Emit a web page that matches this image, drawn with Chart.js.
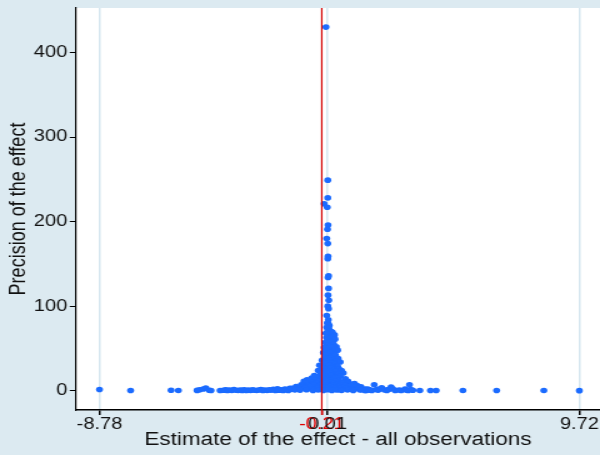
<!DOCTYPE html>
<html>
<head>
<meta charset="utf-8">
<script src="https://cdn.jsdelivr.net/npm/chart.js@4.4.1/dist/chart.umd.min.js"></script>
<style>
  html, body { margin: 0; padding: 0; background: #dceaf1; }
  #chart { display: block; }
</style>
</head>
<body>
<!-- drawn at 480 wide and stretched to 600, like the source picture -->
<canvas id="chart" width="480" height="455" style="width:600px;height:455px"></canvas>
<script>
const xTicks = [-8.78, -0.21, 0.01, 9.72];
const yTicks = [0, 100, 200, 300, 400];
const gridMarks = [-8.78, 0.01, 9.72];
const meanEffect = -0.21;

// [estimate, precision]
const leftTail = [
  [-8.78, 1.5], [-7.58, 0.3], [-6.02, 0.6], [-5.74, 0.2], [-5.02, 0.4], [-4.92, 1.1], [-4.78, 2.0], [-4.68, 3.2], [-4.55, 0.6], [-4.48, 0.3],
  [-4.13, 0.3], [-4.0, 0.6], [-3.92, 1.0], [-3.85, 0.4], [-3.76, 0.8], [-3.68, 0.2], [-3.6, 1.4], [-3.52, 0.5], [-3.44, 0.2], [-3.36, 0.9],
  [-3.28, 0.4], [-3.2, 1.2], [-3.12, 0.3], [-3.04, 0.7], [-2.96, 0.2], [-2.88, 1.0], [-2.8, 0.5], [-2.72, 0.2], [-2.64, 0.9], [-2.56, 1.3],
  [-2.48, 0.4], [-2.4, 0.8], [-2.32, 0.2], [-2.24, 1.1], [-2.16, 0.5], [-2.08, 1.6], [-2.0, 0.3], [-1.92, 2.4], [-1.85, 0.7], [-1.78, 1.2],
  [-1.7, 0.3], [-1.63, 2.0], [-1.56, 1.0], [-1.5, 0.4], [-1.44, 3.0], [-1.38, 1.6]
];

const core = [
  [0.0, 80], [0.04, 79], [0.08, 77], [-0.02, 75], [0.06, 74], [0.02, 72], [0.1, 71], [0.15, 70],
  [-0.05, 68], [0.05, 67], [0.2, 69], [0.28, 66], [-0.03, 63], [0.08, 62], [0.22, 64],
  [0.02, 60], [0.12, 59], [0.3, 61], [-0.08, 57], [0.05, 56], [0.15, 58],
  [0.0, 54], [0.1, 53], [0.25, 55], [0.35, 52], [-0.12, 51], [0.03, 50], [0.18, 51], [0.3, 49],
  [-0.02, 48], [0.08, 47], [0.2, 46], [0.4, 48], [-0.15, 45], [0.0, 44], [0.12, 45], [0.28, 43],
  [-0.05, 42], [0.06, 41], [0.18, 40], [0.32, 42], [-0.1, 39], [0.02, 38], [0.14, 39], [0.24, 37], [0.42, 38],
  [-0.2, 36], [-0.02, 35], [0.1, 36], [0.2, 34], [0.35, 35], [-0.12, 33], [0.04, 32], [0.16, 33], [0.3, 31], [0.5, 34],
  [-0.3, 30], [-0.05, 29], [0.08, 30], [0.22, 28], [0.4, 29], [-0.18, 27], [0.0, 26], [0.12, 27], [0.28, 25], [0.45, 26],
  [-0.35, 24], [-0.1, 23], [0.05, 24], [0.18, 22], [0.35, 23], [0.55, 24],
  [-0.25, 21], [-0.02, 20], [0.1, 21], [0.25, 19], [0.42, 20], [0.62, 21],
  [-0.5, 18], [-0.3, 17], [-0.12, 18], [0.02, 17], [0.15, 18], [0.3, 16], [0.5, 17],
  [-0.6, 15], [-0.4, 16], [-0.2, 15], [0.06, 15], [0.2, 14], [0.38, 15], [0.7, 14],
  [-0.78, 13], [-0.45, 13], [-0.25, 12], [-0.05, 13], [0.1, 12], [0.28, 13], [0.45, 12], [0.8, 11],
  [-0.9, 11], [-0.68, 12], [-0.55, 10], [-0.35, 11], [-0.15, 10], [0.0, 11], [0.15, 10], [0.32, 11], [0.55, 10], [0.75, 9],
  [-0.8, 9], [-0.6, 8], [-0.4, 9], [-0.2, 8], [-0.05, 9], [0.08, 8], [0.22, 9], [0.4, 8], [0.6, 9], [0.9, 8], [1.05, 8.5],
  [-1.0, 7], [-0.75, 6.5], [-0.5, 7], [-0.3, 6], [-0.1, 7], [0.05, 6], [0.18, 7], [0.35, 6], [0.52, 7], [0.7, 6], [0.95, 7], [1.15, 6],
  [-1.2, 5], [-0.95, 4.5], [-0.65, 5], [-0.45, 4], [-0.25, 5], [-0.08, 4], [0.1, 5], [0.25, 4], [0.45, 5], [0.62, 4], [0.85, 5], [1.05, 4], [1.3, 4.5],
  [-1.35, 3], [-1.1, 2.5], [-0.85, 3], [-0.6, 2], [-0.38, 3], [-0.18, 2.5], [0.0, 3], [0.15, 2], [0.32, 3], [0.5, 2.5], [0.72, 3], [0.95, 2], [1.2, 3], [1.45, 2],
  [-1.25, 1], [-1.05, 0.5], [-0.8, 1.2], [-0.55, 0.3], [-0.35, 1], [-0.15, 0.4], [0.02, 1.1], [0.18, 0.3], [0.38, 0.9], [0.55, 0.2], [0.78, 1], [1.0, 0.4], [1.25, 1.2], [1.5, 0.3], [1.6, 1.5]
];

const spike = [
  [-0.05, 430], [0.02, 249], [0.02, 228], [-0.12, 221], [0.0, 217], [0.03, 196], [0.01, 191], [-0.02, 180], [0.02, 174],
  [0.03, 159], [0.02, 156], [0.05, 136], [0.03, 134], [0.05, 121], [0.03, 113], [0.06, 107], [0.02, 100], [0.05, 97],
  [-0.02, 89], [0.04, 84]
];

const rightTail = [
  [1.3, 1.0], [1.45, 0.4], [1.55, 2.0], [1.65, 0.5], [1.72, 0.4], [1.81, 7.0], [1.9, 1.5], [1.96, 0.5], [2.05, 2.6], [2.1, 3.5],
  [2.2, 1.0], [2.3, 0.3], [2.38, 1.8], [2.46, 4.2], [2.52, 2.4], [2.62, 0.4], [2.77, 0.8], [2.85, 0.3], [3.0, 2.0], [3.05, 0.5],
  [3.12, 0.4], [3.17, 7.0], [3.22, 1.4], [3.3, 0.6], [3.57, 0.2], [3.98, 0.3], [4.2, 0.3], [5.23, 0.2], [6.53, 0.3], [8.35, 0.2], [9.72, 0.1]
];

const points = [...leftTail, ...core, ...spike, ...rightTail].map(([x, y]) => ({ x, y }));

const backdrop = {
  id: 'backdrop',
  beforeDraw(chart) {
    const { ctx, chartArea: a } = chart;
    ctx.save();
    ctx.fillStyle = '#dceaf1';
    ctx.fillRect(0, 0, chart.width, chart.height);
    ctx.fillStyle = '#ffffff';
    ctx.fillRect(a.left, a.top, a.right - a.left, a.bottom - a.top);
    ctx.restore();
  },
  afterDatasetsDraw(chart) {
    // red reference line sits on top of the points
    const { ctx, chartArea: a, scales: { x } } = chart;
    const px = x.getPixelForValue(meanEffect);
    ctx.save();
    ctx.strokeStyle = '#d40000';
    ctx.lineWidth = 1.2;
    ctx.beginPath();
    ctx.moveTo(px, a.top);
    ctx.lineTo(px, a.bottom + 5);
    ctx.stroke();
    ctx.restore();
  }
};

const font = { family: '"Liberation Sans", Arial, sans-serif' };

new Chart(document.getElementById('chart'), {
  type: 'scatter',
  data: {
    datasets: [{
      data: points,
      backgroundColor: '#1b6bff',
      borderWidth: 0,
      pointRadius: 2.8
    }]
  },
  options: {
    responsive: false,
    animation: false,
    layout: { autoPadding: false, padding: { top: 8, right: 0, left: 0, bottom: 0 } },
    plugins: { legend: { display: false }, tooltip: { enabled: false } },
    scales: {
      x: {
        type: 'linear',
        min: -9.686,
        max: 10.515,
        afterBuildTicks: (scale) => { scale.ticks = xTicks.map(v => ({ value: v })); },
        afterFit: (scale) => {
          scale.height = 45;
          scale.paddingLeft = 0;
          scale.paddingRight = 0;
        },
        border: { display: true, color: '#000', width: 1.5 },
        grid: {
          drawOnChartArea: true,
          color: (c) => gridMarks.includes(c.tick && c.tick.value) ? '#d6e7f0' : 'rgba(0,0,0,0)',
          lineWidth: 1.5,
          tickColor: (c) => c.tick && c.tick.value === meanEffect ? '#d40000' : '#000',
          tickLength: 5
        },
        ticks: {
          autoSkip: false,
          maxRotation: 0,
          minRotation: 0,
          padding: 0,
          color: (c) => c.tick && c.tick.value === meanEffect ? '#e00000' : '#111',
          font: { ...font, size: 16 },
          callback: (v) => v.toFixed(2)
        },
        title: {
          display: true,
          text: 'Estimate of the effect - all observations',
          color: '#111',
          font: { ...font, size: 18 },
          padding: { top: 0, bottom: 4 }
        }
      },
      y: {
        min: -22.8,
        max: 452.6,
        afterBuildTicks: (scale) => { scale.ticks = yTicks.map(v => ({ value: v })); },
        afterFit: (scale) => {
          scale.width = 60.8;
          scale.paddingTop = 0;
          scale.paddingBottom = 0;
        },
        border: { display: true, color: '#000', width: 1.2 },
        grid: { drawOnChartArea: false, tickColor: '#000', tickLength: 5 },
        ticks: {
          padding: 2,
          color: '#111',
          font: { ...font, size: 16 },
          callback: (v) => String(v)
        },
        title: {
          display: true,
          text: 'Precision of the effect',
          color: '#111',
          font: { ...font, size: 18 },
          padding: { top: 4, bottom: 0 }
        }
      }
    }
  },
  plugins: [backdrop]
});
</script>
</body>
</html>
